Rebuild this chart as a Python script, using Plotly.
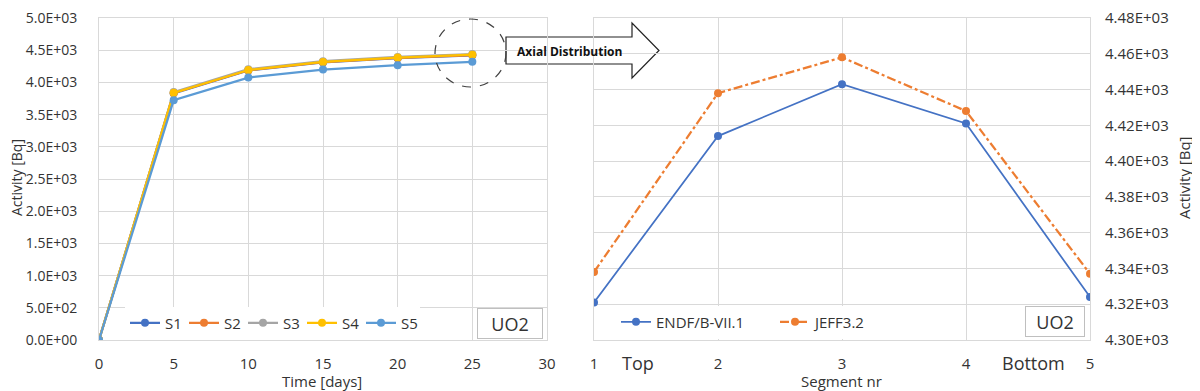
import plotly.graph_objects as go

# ---------------- data ----------------
time_days = [0, 5, 10, 15, 20, 25]
S1 = [0, 3830, 4185, 4310, 4375, 4420]
S2 = [0, 3835, 4190, 4315, 4380, 4425]
S3 = [0, 3850, 4205, 4330, 4395, 4440]
S4 = [0, 3838, 4192, 4318, 4386, 4431]
S5 = [0, 3724, 4075, 4200, 4268, 4319]
series_names = ["S1", "S2", "S3", "S4", "S5"]
series_colors = ["#4472C4", "#ED7D31", "#A5A5A5", "#FFC000", "#5B9BD5"]

segments = [1, 2, 3, 4, 5]
ENDF = [4321, 4414, 4443, 4421, 4324]
JEFF = [4338, 4438, 4458, 4428, 4337]

left_yticks = [0, 500, 1000, 1500, 2000, 2500, 3000, 3500, 4000, 4500, 5000]
left_xticks = [0, 5, 10, 15, 20, 25, 30]
right_yticks = [4300, 4320, 4340, 4360, 4380, 4400, 4420, 4440, 4460, 4480]

W, H = 1200, 391
OFF = 8  # default page body margin
FONT = "Open Sans"
TXT = "#333333"
GRID = "#D9D9D9"
PLOT_TOP, PLOT_BOTTOM = 18, 340


def px(xp):
    return (xp - OFF) / W


def py(yp):
    return 1 - (yp - OFF) / H


fig = go.Figure()

for name, vals, col in zip(series_names, [S1, S2, S3, S4, S5], series_colors):
    fig.add_trace(go.Scatter(
        x=time_days, y=vals, name=name, mode="lines+markers",
        line=dict(color=col, width=2.25), marker=dict(color=col, size=8),
        xaxis="x", yaxis="y", legend="legend"))

fig.add_trace(go.Scatter(
    x=segments, y=ENDF, name="ENDF/B-VII.1", mode="lines+markers",
    line=dict(color="#4472C4", width=1.75), marker=dict(color="#4472C4", size=8),
    xaxis="x2", yaxis="y2", legend="legend2"))
fig.add_trace(go.Scatter(
    x=segments, y=JEFF, name="JEFF3.2", mode="lines+markers",
    line=dict(color="#ED7D31", width=2.25, dash="dashdot"), marker=dict(color="#ED7D31", size=8),
    xaxis="x2", yaxis="y2", legend="legend2"))

axis_common = dict(showgrid=True, gridcolor=GRID, gridwidth=1, zeroline=False,
                   showline=True, linecolor=GRID, linewidth=1, mirror=True,
                   automargin=False, ticklabeloverflow="allow", ticks="")
tf15 = dict(family=FONT, size=15, color=TXT)
tf14 = dict(family=FONT, size=14, color=TXT)

fig.update_layout(
    width=W, height=H,
    margin=dict(l=0, r=0, t=0, b=0, autoexpand=False),
    paper_bgcolor="white", plot_bgcolor="white",
    font=dict(family=FONT, color=TXT),
    xaxis=dict(domain=[px(99), px(547)], range=[0, 30], tickvals=left_xticks,
               ticktext=[str(v) for v in left_xticks], anchor="y",
               ticklabelstandoff=10, tickfont=tf15, **axis_common),
    yaxis=dict(domain=[py(PLOT_BOTTOM), py(PLOT_TOP)], range=[0, 5000], tickvals=left_yticks,
               ticktext=[f"{v:.1E}" for v in left_yticks], anchor="x",
               ticklabelstandoff=18, tickfont=tf14, **axis_common),
    xaxis2=dict(domain=[px(594), px(1090)], range=[1, 5], tickvals=segments,
                ticktext=[str(v) for v in segments], anchor="y2",
                ticklabelstandoff=10, tickfont=tf15, **axis_common),
    yaxis2=dict(domain=[py(PLOT_BOTTOM), py(PLOT_TOP)], range=[4300, 4480], tickvals=right_yticks,
                ticktext=[f"{v:.2E}" for v in right_yticks], anchor="x2", side="right",
                ticklabelstandoff=11, tickfont=tf15, **axis_common),
    legend=dict(orientation="h", x=px(125), y=py(323), xanchor="left", yanchor="middle",
                bgcolor="white", font=dict(family=FONT, size=15, color=TXT),
                itemwidth=30, entrywidth=14, entrywidthmode="pixels", tracegroupgap=0),
    legend2=dict(orientation="h", x=px(616), y=py(322), xanchor="left", yanchor="middle",
                 bgcolor="white", font=dict(family=FONT, size=15, color=TXT),
                 itemwidth=30, entrywidth=114, entrywidthmode="pixels"),
    showlegend=True,
)

annotations = [
    dict(text="Activity [Bq]", x=px(17), y=py(178), textangle=-90, font=dict(size=14)),
    dict(text="Activity [Bq]", x=px(1184), y=py(178), textangle=-90, font=dict(size=15)),
    dict(text="Time [days]", x=px(322), y=py(381), font=dict(size=15)),
    dict(text="Segment nr", x=px(842), y=py(381), font=dict(size=15)),
    dict(text="Top", x=px(638), y=py(363), font=dict(size=18)),
    dict(text="Bottom", x=px(1033), y=py(363), font=dict(size=18)),
    dict(text="UO2", x=px(510), y=py(323.5), font=dict(size=18), width=64, height=29,
         bordercolor="#BFBFBF", borderwidth=1, borderpad=0, bgcolor="white"),
    dict(text="UO2", x=px(1055), y=py(321.5), font=dict(size=18), width=58, height=29,
         bordercolor="#BFBFBF", borderwidth=1, borderpad=0, bgcolor="white"),
    dict(text="<b>Axial Distribution</b>", x=px(569), y=py(51), font=dict(size=12, color="#111111")),
]
for a in annotations:
    a.update(xref="paper", yref="paper", showarrow=False, xanchor="center", yanchor="middle")
    a.setdefault("font", {})
    a["font"].setdefault("family", FONT)
    a["font"].setdefault("color", TXT)
fig.update_layout(annotations=annotations)

# arrow and dashed circle (decorations)
pts = [(506, 37), (632, 37), (632, 23), (659, 50.5), (632, 78), (632, 64), (506, 64)]
path = "M " + " L ".join(f"{px(a)},{py(b)}" for a, b in pts) + " Z"
fig.add_shape(type="path", path=path, xref="paper", yref="paper",
              line=dict(color="#222222", width=1.2), fillcolor="white", layer="below")
fig.add_shape(type="circle", xref="paper", yref="paper",
              x0=px(435), x1=px(506), y0=py(87), y1=py(19),
              line=dict(color="#404040", width=1.2, dash="dash"))

fig.write_html("out.html")
